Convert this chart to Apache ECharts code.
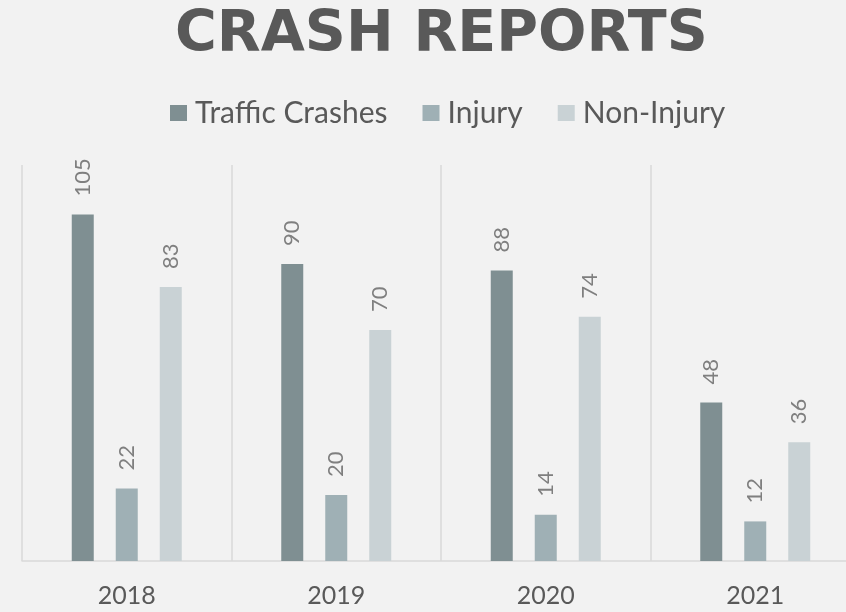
<!DOCTYPE html>
<html>
<head>
<meta charset="utf-8">
<script src="https://cdn.jsdelivr.net/npm/echarts@6/dist/echarts.min.js"></script>
<style>
  html, body { margin: 0; padding: 0; background: #f2f2f2; }
  #chart { width: 846px; height: 612px; }
</style>
</head>
<body>
<div id="chart"></div>
<script>
const years = ['2018', '2019', '2020', '2021'];
const trafficCrashes = [105, 90, 88, 48];
const injury = [22, 20, 14, 12];
const nonInjury = [83, 70, 74, 36];

const chart = echarts.init(document.getElementById('chart'));

const barLabel = {
  show: true,
  position: 'top',
  rotate: 90,
  align: 'left',
  verticalAlign: 'middle',
  distance: 18,
  color: '#7f7f7f',
  fontSize: 22,
  fontFamily: 'Lato'
};

const mkSeries = (name, data, color) => ({
  name, data, type: 'bar',
  barWidth: 22, barGap: '100%',
  itemStyle: { color },
  label: barLabel
});

chart.setOption({
  backgroundColor: '#f2f2f2',
  title: {
    text: 'CRASH REPORTS',
    left: 170, top: 3,
    textStyle: { fontFamily: 'DejaVu Sans', fontWeight: 'bold', fontSize: 57, color: '#595959' }
  },
  legend: {
    top: 93, left: 165,
    itemWidth: 17, itemHeight: 16, itemGap: 35,
    icon: 'rect',
    textStyle: { fontFamily: 'Lato', fontSize: 30, color: '#595959', padding: [0, 0, 0, 3] }
  },
  grid: { top: 165, bottom: 51, left: 22, right: -14, outerBoundsMode: 'none', containLabel: false },
  xAxis: {
    type: 'category',
    data: years,
    axisTick: { show: false },
    axisLine: { lineStyle: { color: '#d9d9d9', width: 1.5 } },
    axisLabel: { color: '#595959', fontSize: 25, fontFamily: 'Lato', margin: 22 },
    splitLine: { show: true, lineStyle: { color: '#d9d9d9', width: 1.5 } }
  },
  yAxis: {
    type: 'value', min: 0, max: 120,
    show: false
  },
  series: [
    mkSeries('Traffic Crashes', trafficCrashes, '#7f8f92'),
    mkSeries('Injury', injury, '#9fb0b5'),
    mkSeries('Non-Injury', nonInjury, '#c9d2d5')
  ]
});
</script>
</body>
</html>
